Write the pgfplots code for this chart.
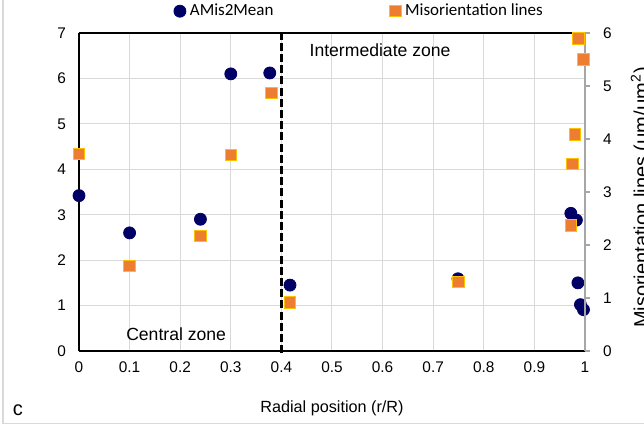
\documentclass[border=0pt]{standalone}
\usepackage{fontspec}
\setmainfont{Liberation Sans}
\newfontfamily\legfont{Carlito}
\usepackage{pgfplots}
\pgfplotsset{compat=1.18}
\definecolor{navy}{RGB}{0,0,102}
\definecolor{sqfill}{RGB}{237,125,49}
\definecolor{sqdraw}{RGB}{255,192,0}
\definecolor{gridc}{RGB}{217,217,217}
\begin{document}
\begin{tikzpicture}
\begin{axis}[
  name=ax1,
  width=253pt, height=159pt, scale only axis,
  xmin=0, xmax=1, ymin=0, ymax=7,
  xtick={0,0.1,0.2,0.3,0.4,0.5,0.6,0.7,0.8,0.9,1},
  xticklabels={0,0.1,0.2,0.3,0.4,0.5,0.6,0.7,0.8,0.9,1},
  ytick={0,1,2,3,4,5,6,7},
  axis x line*=bottom, axis y line*=left,
  axis line style={black, line width=0.75pt, -},
  grid=major, grid style={gridc, line width=0.5pt},
  xtick style={draw=none}, ytick style={draw=none},
  tick label style={font=\fontsize{7.7}{9}\selectfont},
  /pgf/number format/assume math mode=true,
  xticklabel style={yshift=-2pt},
  yticklabel style={xshift=-3pt},
  clip=false,
  xlabel={Radial position (r/R)},
  xlabel style={font=\fontsize{8.1}{9.5}\selectfont, at={(rel axis cs:0.5,0)}, anchor=center, yshift=-28.5pt},
]
\draw[black, line width=0.75pt] (rel axis cs:0,1) -- (rel axis cs:1,1);
\addplot[only marks, mark=*, mark size=3pt, navy, mark options={fill=navy, draw=navy}] coordinates {
(0,3.42) (0.1,2.6) (0.24,2.9) (0.3,6.1) (0.377,6.12) (0.417,1.45) (0.749,1.59)
(0.972,3.03) (0.983,2.88) (0.986,1.5) (0.991,1.02) (0.997,0.91)
};
\draw[black, line width=1.2pt, dash pattern=on 4pt off 1.6pt] (axis cs:0.4,-0.05) -- (axis cs:0.4,7);
\node[font=\fontsize{8.8}{10}\selectfont, anchor=center] at (axis cs:0.192,0.37) {Central zone};
\node[font=\fontsize{8.8}{10}\selectfont, anchor=center] at (axis cs:0.595,6.63) {Intermediate zone};
\node[font=\fontsize{10}{12}\selectfont, anchor=center] at ([shift={(-30.5pt,-29.5pt)}]rel axis cs:0,0) {c};
\draw[gray!30, line width=0.6pt] ([shift={(-38pt,200pt)}]rel axis cs:0,0) -- ([shift={(-38pt,-36.2pt)}]rel axis cs:0,0) -- ([shift={(300pt,-36.2pt)}]rel axis cs:0,0);
\end{axis}
\begin{axis}[
  width=253pt, height=159pt, scale only axis,
  xmin=0, xmax=1, ymin=0, ymax=6,
  ytick={0,1,2,3,4,5,6},
  axis x line=none, axis y line*=right,
  axis line style={gray!70, line width=0.75pt, -},
  ytick style={gray!70, line width=0.6pt},
  tick align=outside, major tick length=2.5pt,
  tick label style={font=\fontsize{7.7}{9}\selectfont},
  /pgf/number format/assume math mode=true,
  yticklabel style={xshift=3pt},
  clip=false,
  legend columns=2,
  legend style={draw=none, fill=none, font=\legfont\fontsize{8.5}{10}\selectfont,
    at={(rel axis cs:0.556,1)}, anchor=south, yshift=3pt},
  legend image code/.code={\draw[#1] plot coordinates {(0pt,0pt)};},
]
\addlegendimage{only marks, mark=*, mark size=3pt, navy, mark options={fill=navy, draw=navy}}
\addlegendentry{AMis2Mean\hspace*{56pt}\mbox{}}
\addplot[only marks, mark=square*, mark size=2.9pt, mark options={fill=sqfill, draw=sqdraw, line width=0.5pt}] coordinates {
(0,3.72) (0.1,1.6) (0.24,2.17) (0.3,3.7) (0.38,4.87) (0.417,0.92) (0.75,1.3)
(0.972,2.37) (0.975,3.53) (0.98,4.08) (0.987,5.9) (0.997,5.5)
};
\addlegendentry{Misorientation lines}
\node[font=\fontsize{10}{12}\selectfont, rotate=90, anchor=base] at ([shift={(284.5pt,76.75pt)}]rel axis cs:0,0) {Misorientation lines (μm/μm\textsuperscript{2})};
\end{axis}
\pgfresetboundingbox
\path[use as bounding box] ([shift={(-39.5pt,-38pt)}]ax1.south west) rectangle ([shift={(282.5pt,175.5pt)}]ax1.south west);
\end{tikzpicture}
\end{document}
